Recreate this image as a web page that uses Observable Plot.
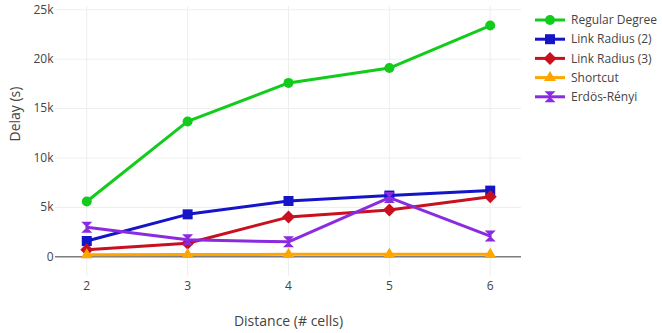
<!DOCTYPE html>
<html>
<head>
<meta charset="utf-8">
<script src="https://cdn.jsdelivr.net/npm/d3@7"></script>
<script src="https://cdn.jsdelivr.net/npm/@observablehq/plot@0.6"></script>
<style>
  body { margin: 0; background: #fff; }
  #chart { position: relative; width: 662px; height: 333px; }
</style>
</head>
<body>
<div id="chart"></div>
<script>
const distances = [2, 3, 4, 5, 6];
const seriesNames = ["Regular Degree", "Link Radius (2)", "Link Radius (3)", "Shortcut", "Erdös-Rényi"];
const regularDegree = [5600, 13700, 17600, 19100, 23400];
const linkRadius2 = [1600, 4300, 5650, 6200, 6700];
const linkRadius3 = [720, 1380, 4020, 4750, 6080];
const shortcut = [220, 240, 250, 260, 250];
const erdosRenyi = [3000, 1720, 1520, 6000, 2100];
const yTicks = [0, 5000, 10000, 15000, 20000, 25000];
const colors = ["#11cc1a", "#1414c8", "#c8101e", "#ffa500", "#8a2be2"];

const seriesValues = [regularDegree, linkRadius2, linkRadius3, shortcut, erdosRenyi];

// custom plotly-like marker symbols
const S = size => Math.sqrt(size / Math.PI);
const symCircle = {draw(ctx, size) { const s = S(size); ctx.moveTo(s, 0); ctx.arc(0, 0, s, 0, 2 * Math.PI); }};
const symSquare = {draw(ctx, size) { const s = S(size); ctx.rect(-s, -s, 2 * s, 2 * s); }};
const symDiamond = {draw(ctx, size) { const s = S(size) * 1.3; ctx.moveTo(0, -s); ctx.lineTo(s, 0); ctx.lineTo(0, s); ctx.lineTo(-s, 0); ctx.closePath(); }};
const symTriangle = {draw(ctx, size) { const s = S(size); ctx.moveTo(-1.2 * s, 0.7 * s); ctx.lineTo(1.2 * s, 0.7 * s); ctx.lineTo(0, -1.3 * s); ctx.closePath(); }};
const symHourglass = {draw(ctx, size) { const s = S(size) * 1.1; ctx.moveTo(s, s); ctx.lineTo(-s, s); ctx.lineTo(s, -s); ctx.lineTo(-s, -s); ctx.closePath(); }};
const symbols = [symCircle, symSquare, symDiamond, symTriangle, symHourglass];

const rows = [];
seriesNames.forEach((name, i) => {
  distances.forEach((d, j) => rows.push({series: name, idx: i, distance: d, delay: seriesValues[i][j]}));
});

const marks = [
  Plot.gridX(distances, {stroke: "#eee", strokeOpacity: 1}),
  Plot.gridY(yTicks, {stroke: "#eee", strokeOpacity: 1}),
  Plot.ruleY([0], {stroke: "#444", strokeWidth: 1}),
  Plot.axisX({ticks: distances, tickSize: 0, tickPadding: 5, label: null, fill: "#444", tickFormat: d => String(d)}),
  Plot.axisY({ticks: yTicks, tickSize: 0, tickPadding: 2, label: null, fill: "#444",
    tickFormat: d => d === 0 ? "0" : (d / 1000) + "k"}),
  Plot.text(["Delay (s)"], {text: d => d, frameAnchor: "left", dx: -40, rotate: -90, fontSize: 14, fill: "#444"}),
  Plot.text(["Distance (# cells)"], {text: d => d, frameAnchor: "bottom", dy: 49, fontSize: 14, fill: "#444"})
];
seriesNames.forEach((name, i) => {
  const data = rows.filter(r => r.idx === i);
  marks.push(Plot.line(data, {x: "distance", y: "delay", stroke: colors[i], strokeWidth: 3}));
  marks.push(Plot.dot(data, {x: "distance", y: "delay", fill: colors[i], stroke: "none", r: 5, symbol: symbols[i]}));
});

const chart = Plot.plot({
  width: 662,
  height: 333,
  marginLeft: 55,
  marginRight: 141,
  marginTop: 6,
  marginBottom: 57,
  style: {fontFamily: "'Open Sans', sans-serif", fontSize: "12px", color: "#444", background: "#fff"},
  x: {domain: [1.69, 6.31]},
  y: {domain: [-1990, 25330]},
  marks
});
document.getElementById("chart").appendChild(chart);

// legend
const svg = d3.select(chart);
const lg = svg.append("g").attr("font-family", "'Open Sans', sans-serif").attr("font-size", 12).attr("fill", "#444").attr("text-anchor", "start");
seriesNames.forEach((name, i) => {
  const cy = 20 + i * 19.2;
  const g = lg.append("g").attr("transform", `translate(535,${cy})`);
  g.append("line").attr("x1", 0).attr("x2", 30).attr("y1", 0).attr("y2", 0).attr("stroke", colors[i]).attr("stroke-width", 3);
  g.append("path").attr("transform", "translate(15,0)").attr("d", d3.symbol(symbols[i], Math.PI * 25)()).attr("fill", colors[i]);
  g.append("text").attr("x", 36).attr("y", 0).attr("dy", "0.35em").attr("text-anchor", "start").text(name);
});
</script>
</body>
</html>
